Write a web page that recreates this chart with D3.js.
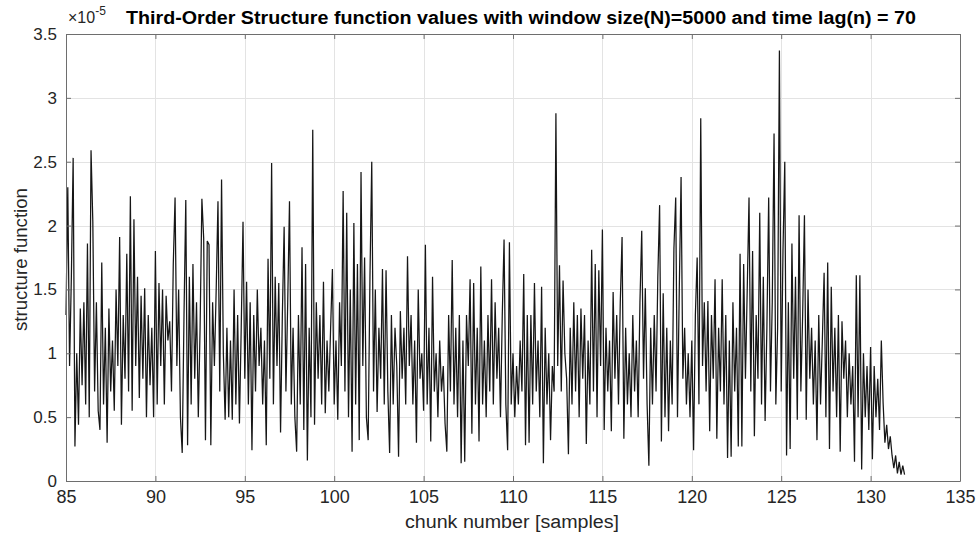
<!DOCTYPE html>
<html><head><meta charset="utf-8">
<script src="https://cdn.jsdelivr.net/npm/d3@7/dist/d3.min.js"></script>
<style>
html,body{margin:0;padding:0;background:#fff;}
svg text{font-family:"Liberation Sans",Arial,Helvetica,sans-serif;}
</style></head>
<body><svg id="chart" width="979" height="538"></svg>
<script>
// x: chunk number, starting at 85 with a step of 0.1 per sample
const xStart = 85;
const xStep = 0.1;
// structure function values, in units of 1e-5 (one row = one chunk unit)
const values = [
 1.3,2.30,0.9,1.6,2.53,0.27,1.0,0.44,1.35,0.75,
 1.4,0.6,1.86,0.5,2.59,2.03,0.7,1.4,0.55,0.4,
 1.71,0.6,1.2,0.30,1.35,0.7,1.1,0.55,1.5,0.9,
 1.91,0.44,1.3,0.8,1.78,0.7,2.23,0.55,2.05,0.9,
 1.6,0.65,1.45,0.8,1.51,0.5,1.3,0.75,1.2,0.5,
 1.80,0.6,1.55,0.9,1.5,0.6,1.45,1.1,1.25,0.7,
 1.7,2.22,0.9,1.5,0.5,0.22,1.3,2.20,0.28,1.6,
 0.6,1.7,0.8,1.4,0.5,1.2,2.21,1.9,0.32,1.88,
 1.85,0.28,1.4,0.9,1.5,2.19,0.7,2.36,1.0,0.48,
 1.2,0.5,1.1,0.48,1.5,0.6,1.3,0.45,1.2,2.03,
 0.8,1.56,0.6,1.4,0.24,1.3,0.7,1.5,0.9,1.2,
 0.6,1.1,0.28,1.74,0.8,2.49,0.6,1.6,0.9,1.55,
 0.38,1.3,1.99,0.7,1.4,2.19,0.6,1.2,0.5,0.23,
 1.3,0.6,1.83,0.4,1.7,0.16,1.2,0.5,2.75,0.44,
 1.4,0.8,1.3,0.6,1.56,0.53,1.1,0.7,1.2,1.66,
 0.6,1.1,0.48,1.4,0.9,2.27,0.7,2.10,0.5,1.5,
 0.23,2.02,0.6,1.7,0.32,2.42,0.9,1.75,0.5,0.32,
 1.6,2.50,0.7,1.5,0.54,1.2,0.8,1.66,0.6,1.65,
 0.7,0.22,1.3,0.6,1.2,0.9,0.19,1.33,0.8,1.2,
 0.6,1.76,0.9,1.3,0.6,1.1,0.30,1.5,0.8,1.0,
 0.55,1.85,0.6,1.2,0.31,1.6,0.7,1.0,0.5,1.1,
 0.7,0.9,0.45,0.23,1.3,0.7,1.73,0.6,1.2,0.5,
 1.3,0.14,1.1,0.15,1.3,0.9,1.58,0.37,1.55,0.6,
 1.2,0.31,1.68,0.6,1.1,0.5,1.3,0.7,1.58,0.6,
 1.4,0.8,1.2,0.5,1.3,1.89,0.6,0.24,1.87,0.6,
 1.0,0.5,0.9,0.6,1.1,0.7,1.62,0.28,1.3,0.30,
 1.3,0.6,1.55,0.7,1.1,0.5,1.52,0.14,1.2,0.6,
 1.0,0.32,0.9,0.7,2.88,0.9,1.69,0.7,1.57,1.0,
 0.8,0.21,1.2,0.6,1.4,0.7,1.3,0.5,1.35,0.8,
 1.3,0.29,1.1,0.6,1.81,0.7,1.7,0.5,1.65,0.9,
 1.97,0.4,1.2,0.7,1.1,0.39,1.48,0.8,1.3,0.6,
 1.4,1.91,0.33,1.2,0.6,1.0,0.5,1.3,0.7,1.1,
 0.5,1.4,1.96,0.8,1.51,0.6,0.12,1.2,0.6,1.3,
 0.7,1.6,2.16,0.31,1.47,0.5,1.2,0.39,1.1,0.6,
 1.82,2.22,0.5,1.5,2.38,0.8,1.2,0.6,1.0,0.5,
 1.1,0.24,1.3,1.75,0.6,2.84,0.9,1.4,0.7,1.41,
 0.39,1.3,0.8,1.58,0.33,1.2,0.7,1.58,0.6,1.3,
 0.18,1.1,0.19,1.4,0.7,1.2,0.27,1.78,0.27,1.70,
 0.8,1.5,2.22,0.7,1.8,0.35,1.3,0.8,2.10,0.6,
 1.6,0.47,1.2,2.22,0.7,1.4,2.72,0.6,1.2,3.37,
 0.7,1.8,2.50,0.20,1.4,0.25,1.86,0.8,1.6,0.48,
 2.08,0.7,1.3,2.08,0.48,1.50,0.8,1.2,0.6,1.1,
 0.32,1.3,0.6,1.1,1.63,0.5,1.71,0.25,1.52,0.7,
 1.2,0.5,1.3,0.23,1.25,0.8,1.1,0.5,1.0,0.6,
 0.9,0.15,1.61,0.5,1.61,0.09,1.0,0.5,0.9,0.4,
 1.05,0.17,0.9,0.5,0.8,0.4,1.10,0.61,0.3,0.44,
 0.25,0.35,0.2,0.1,0.2,0.06,0.15,0.05,0.12,0.05
];
const xTicks = [85,90,95,100,105,110,115,120,125,130,135];
const yTicks = [0,0.5,1,1.5,2,2.5,3,3.5];
const yTickLabels = ["0","0.5","1","1.5","2","2.5","3","3.5"];
const titleText = "Third-Order Structure function values with window size(N)=5000 and time lag(n) = 70";
const xLabel = "chunk number [samples]";
const yLabel = "structure function";

(function(){
const data = values.map((v,i)=>({x:xStart + i*xStep, y:v}));

const L=66, R=960, T=34, B=481;
const svg = d3.select("#chart");
const x = d3.scaleLinear().domain([85,135]).range([L,R]);
const y = d3.scaleLinear().domain([0,3.5]).range([B,T]);

// grid
const g = svg.append("g");
g.selectAll(".vg").data(xTicks.slice(1,-1)).enter().append("line")
 .attr("x1",d=>Math.round(x(d))+0.5).attr("x2",d=>Math.round(x(d))+0.5).attr("y1",T).attr("y2",B)
 .attr("stroke","#e3e3e3").attr("stroke-width",1);
g.selectAll(".hg").data(yTicks.slice(1,-1)).enter().append("line")
 .attr("y1",d=>Math.round(y(d))+0.5).attr("y2",d=>Math.round(y(d))+0.5).attr("x1",L).attr("x2",R)
 .attr("stroke","#e3e3e3").attr("stroke-width",1);

// data line
svg.append("path").datum(data)
 .attr("fill","none").attr("stroke","#161616").attr("stroke-width",1.25)
 .attr("stroke-linejoin","miter").attr("stroke-miterlimit",2)
 .attr("d", d3.line().x(d=>x(d.x)).y(d=>y(d.y)));

// axes with inward ticks
const axColor = "#6e6e6e";
const fmtY = d => yTickLabels[yTicks.indexOf(d)];
const axBottom = svg.append("g").attr("transform",`translate(0,${B})`)
 .call(d3.axisBottom(x).tickValues(xTicks).tickSizeInner(-5).tickSizeOuter(0).tickPadding(9));
const axTop = svg.append("g").attr("transform",`translate(0,${T})`)
 .call(d3.axisTop(x).tickValues(xTicks).tickSizeInner(-5).tickSizeOuter(0).tickFormat(""));
const axLeft = svg.append("g").attr("transform",`translate(${L},0)`)
 .call(d3.axisLeft(y).tickValues(yTicks).tickSizeInner(-5).tickSizeOuter(0).tickPadding(9).tickFormat(fmtY));
const axRight = svg.append("g").attr("transform",`translate(${R},0)`)
 .call(d3.axisRight(y).tickValues(yTicks).tickSizeInner(-5).tickSizeOuter(0).tickFormat(""));
[axBottom,axTop,axLeft,axRight].forEach(a=>{
  a.selectAll("path,line").attr("stroke",axColor);
  a.selectAll("text").attr("fill","#262626");
});
axBottom.selectAll("text").style("font-size","18px");
axLeft.selectAll("text").style("font-size","17px");

// exponent
const ex = svg.append("text").attr("x",68).attr("y",23).attr("fill","#262626").style("font-size","16px");
ex.append("tspan").text("×10");
ex.append("tspan").attr("dy",-8).style("font-size","12px").text("-5");

// title
svg.append("text").attr("x",521).attr("y",24).attr("text-anchor","middle")
 .attr("textLength",790).attr("lengthAdjust","spacingAndGlyphs")
 .attr("fill","#000").style("font-size","18px").style("font-weight","bold").text(titleText);
// x label
svg.append("text").attr("x",512).attr("y",528).attr("text-anchor","middle")
 .attr("textLength",214).attr("lengthAdjust","spacingAndGlyphs")
 .attr("fill","#262626").style("font-size","18px").text(xLabel);
// y label
svg.append("text").attr("transform",`translate(27,${(T+B)/2+2}) rotate(-90)`).attr("text-anchor","middle")
 .attr("textLength",143).attr("lengthAdjust","spacingAndGlyphs")
 .attr("fill","#262626").style("font-size","18px").text(yLabel);
})();
</script></body></html>
